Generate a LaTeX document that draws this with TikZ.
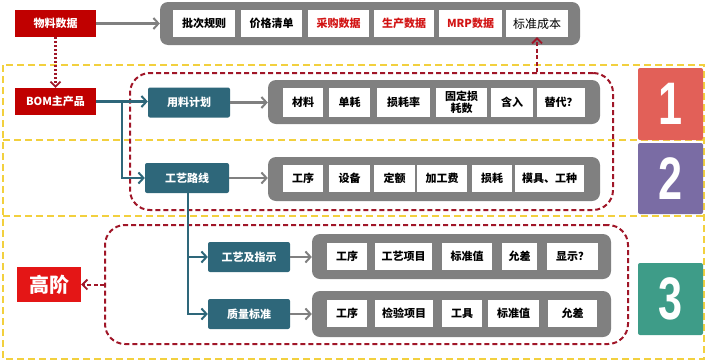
\documentclass[tikz,border=0pt]{standalone}
\usepackage{fontspec}
\usepackage{graphicx}
\setmainfont{Noto Sans CJK SC}
\newfontfamily\numfont{Liberation Sans}
\usetikzlibrary{arrows.meta,positioning}
\definecolor{boxred}{RGB}{192,0,0}
\definecolor{hired}{RGB}{228,22,22}
\definecolor{txtred}{RGB}{210,20,20}
\definecolor{grpgray}{RGB}{128,128,128}
\definecolor{tealbox}{RGB}{46,103,122}
\definecolor{dashred}{RGB}{160,22,40}
\definecolor{ylw}{RGB}{242,208,62}
\definecolor{numred}{RGB}{226,96,88}
\definecolor{numpurple}{RGB}{122,108,164}
\definecolor{numteal}{RGB}{62,156,136}
\tikzset{
  redbox/.style={fill=boxred, text=white, font=\bfseries\fontsize{11}{13}\selectfont, inner sep=0pt, minimum width=81pt, minimum height=27pt},
  tealnode/.style={fill=tealbox, rounded corners=2pt, text=white, font=\bfseries\fontsize{11}{13}\selectfont, inner sep=0pt, minimum width=82pt, minimum height=30pt},
  grpbox/.style={fill=grpgray, rounded corners=8pt, inner sep=0pt},
  item/.style={fill=white, font=\bfseries\fontsize{11}{13}\selectfont, inner sep=0pt, minimum height=27pt, align=center},
  redgrp/.style={draw=dashred, line width=2pt, dash pattern=on 5pt off 3pt, rounded corners=20pt, inner sep=0pt},
  numbox/.style={rounded corners=2pt, text=white, inner sep=0pt, minimum width=65pt, font=\numfont\bfseries\fontsize{60}{60}\selectfont},
  grayarrow/.style={draw=grpgray, line width=2.2pt, -{Straight Barb[length=5pt,width=11pt,line width=2pt]}},
  tealarrow/.style={draw=tealbox, line width=2.2pt, -{Straight Barb[length=5pt,width=11pt,line width=2pt]}},
  reddash/.style={draw=dashred, line width=2pt, dash pattern=on 4pt off 2.5pt, -{Straight Barb[length=5pt,width=10pt,line width=1.8pt]}},
  reddot/.style={draw=dashred, line width=2.2pt, dash pattern=on 2pt off 2pt, -{Straight Barb[length=5pt,width=10pt,line width=1.8pt]}},
  ylwdash/.style={draw=ylw, line width=1.8pt, dash pattern=on 7pt off 4pt}
}
\begin{document}
\begin{tikzpicture}[x=1pt,y=-1pt]
\useasboundingbox (0,0) rectangle (720,362);
% yellow frames
\draw[ylwdash] (3,65) rectangle (704,359);
\draw[ylwdash] (3,140) -- (704,140);
\draw[ylwdash] (3,216) -- (704,216);
% number boxes
\node[numbox, fill=numred, minimum height=72pt] (n1) at (670.5,104) {\scalebox{0.72}[1]{1}};
\node[numbox, fill=numpurple, minimum height=71pt] (n2) at (670.5,178.5) {\scalebox{0.72}[1]{2}};
\node[numbox, fill=numteal, minimum height=72pt] (n3) at (670.5,299) {\scalebox{0.72}[1]{3}};
% red dashed groups
\node[redgrp, minimum width=483pt, minimum height=137pt] (g1) at (371.5,141.5) {};
\node[redgrp, minimum width=523pt, minimum height=119pt] (g3) at (366.5,284.5) {};
% left red boxes
\node[redbox] (wl) at (55.5,23.5) {物料数据};
\node[redbox] (bom) at (55.5,101.5) {BOM主产品};
\node[fill=hired, text=white, font=\bfseries\fontsize{20}{22}\selectfont, inner sep=0pt, minimum width=64pt, minimum height=35pt] (gj) at (49,284.5) {高阶};
% teal nodes
\node[tealnode] (yl) at (189,102.5) {用料计划};
\node[tealnode, minimum width=84pt] (gy) at (187,178) {工艺路线};
\node[tealnode] (zy) at (249,257) {工艺及指示};
\node[tealnode] (zl) at (249,314) {质量标准};
% gray groups
\node[grpbox, minimum width=420pt, minimum height=43pt] (p0) at (370,23.5) {};
\node[grpbox, minimum width=332pt, minimum height=44pt] (p1) at (434,102) {};
\node[grpbox, minimum width=332pt, minimum height=44pt] (p2) at (434,179) {};
\node[grpbox, minimum width=299pt, minimum height=45pt] (p3) at (461.5,256.5) {};
\node[grpbox, minimum width=299pt, minimum height=46pt] (p4) at (461.5,314) {};
% row 0
\node[item, minimum width=62pt] (a1) at (204,23.5) {批次规则};
\node[item, minimum width=61pt] (a2) at (271.5,23.5) {价格清单};
\node[item, minimum width=61pt, text=txtred] (a3) at (338.5,23.5) {采购数据};
\node[item, minimum width=60pt, text=txtred] (a4) at (404,23.5) {生产数据};
\node[item, minimum width=63pt, text=txtred] (a5) at (470.5,23.5) {MRP数据};
\node[item, minimum width=62pt, font=\fontsize{12}{14}\selectfont] (cb) at (537,23.5) {标准成本};
% row 1
\node[item, minimum width=40pt, minimum height=29pt] (b1) at (303,102.5) {材料};
\node[item, minimum width=41pt, minimum height=29pt] (b2) at (349.5,102.5) {单耗};
\node[item, minimum width=53pt, minimum height=29pt] (b3) at (403.5,102.5) {损耗率};
\node[item, minimum width=51pt, minimum height=29pt, font=\bfseries\fontsize{11}{12.5}\selectfont] (b4) at (461.5,102.5) {固定损\\耗数};
\node[item, minimum width=42pt, minimum height=29pt] (b5) at (512,102.5) {含入};
\node[item, minimum width=48pt, minimum height=29pt] (b6) at (561,102.5) {替代？};
% row 2
\node[item, minimum width=40pt] (c1) at (303,178.5) {工序};
\node[item, minimum width=41pt] (c2) at (349.5,178.5) {设备};
\node[item, minimum width=41pt] (c3) at (394.5,178.5) {定额};
\node[item, minimum width=50pt] (c4) at (442,178.5) {加工费};
\node[item, minimum width=40pt] (c5) at (492,178.5) {损耗};
\node[item, minimum width=69pt] (c6) at (549.5,178.5) {模具、工种};
% row 3
\node[item, minimum width=40pt] (d1) at (347,256.5) {工序};
\node[item, minimum width=57pt] (d2) at (403.5,256.5) {工艺项目};
\node[item, minimum width=50pt] (d3) at (467,256.5) {标准值};
\node[item, minimum width=35pt] (d4) at (519.5,256.5) {允差};
\node[item, minimum width=51pt] (d5) at (572.5,256.5) {显示？};
% row 4
\node[item, minimum width=40pt] (e1) at (347,313.5) {工序};
\node[item, minimum width=58pt] (e2) at (404,313.5) {检验项目};
\node[item, minimum width=40pt] (e3) at (462,313.5) {工具};
\node[item, minimum width=51pt] (e4) at (513.5,313.5) {标准值};
\node[item, minimum width=49pt] (e5) at (572.5,313.5) {允差};
% connectors
\draw[grayarrow] (wl.east) -- (p0.west);
\draw[reddot] (wl.south) -- (bom.north);
\coordinate (j1) at (122,101.5);
\draw[tealarrow] (bom.east) -- (yl.west |- bom.east);
\draw[tealarrow] (j1) |- (gy.west);
\draw[grayarrow] (yl.east) -- (p1.west |- yl.east);
\draw[grayarrow] (gy.east) -- (p2.west |- gy.east);
\coordinate (j2) at (188,193);
\draw[tealarrow] (j2) |- (zy.west);
\draw[tealarrow] (j2) |- (zl.west);
\draw[grayarrow] (zy.east) -- (p3.west |- zy.east);
\draw[grayarrow] (zl.east) -- (p4.west |- zl.east);
\draw[reddash] (cb.south |- g1.north) -- (cb.south);
\draw[reddash] (g3.west) -- (gj.east);
\end{tikzpicture}
\end{document}
